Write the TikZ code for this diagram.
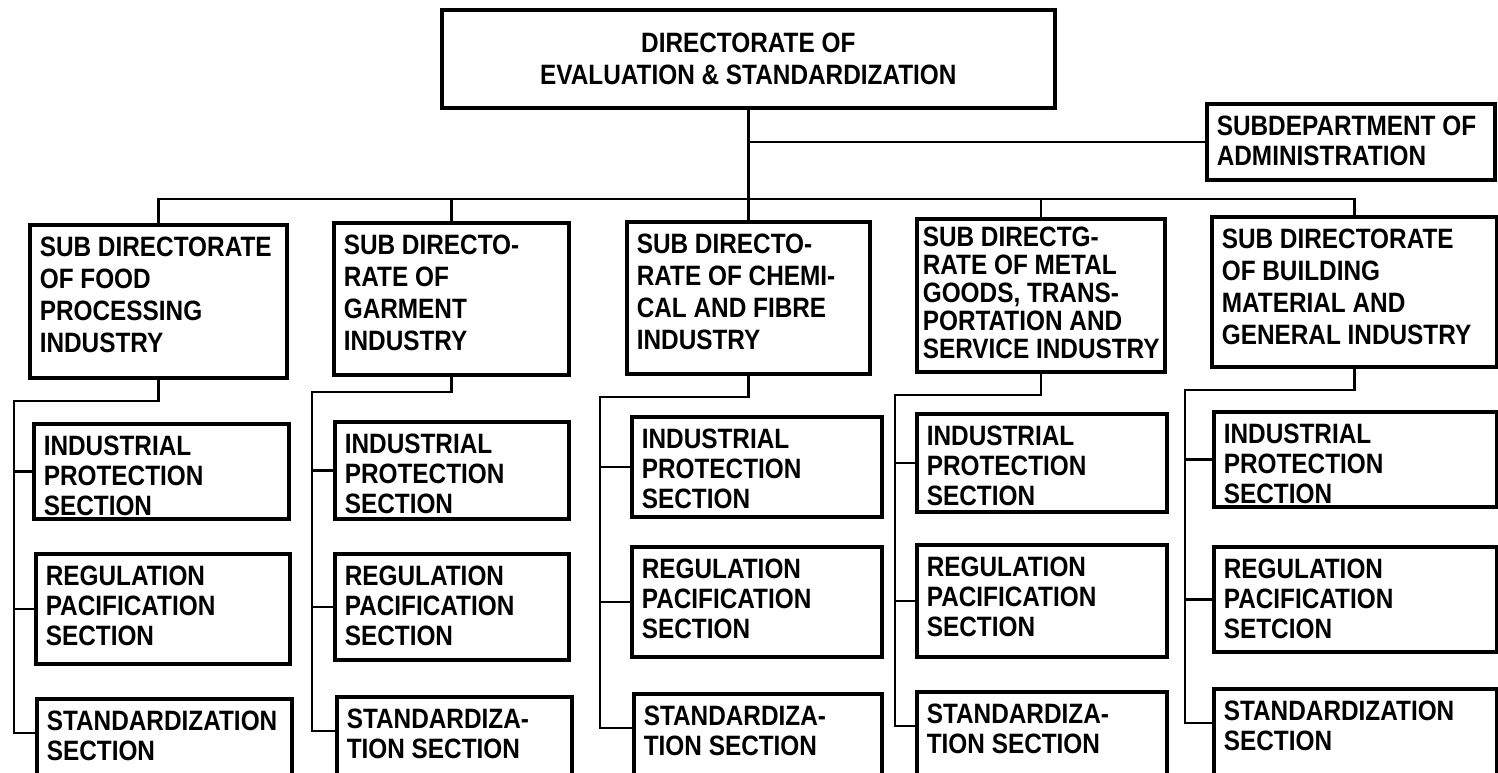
\documentclass[tikz,border=0pt]{standalone}
\usepackage{fontspec}
\setmainfont{Liberation Sans}[FakeStretch=0.87]
\newcommand{\orgtext}[3]{\parbox[c][\dimexpr#2-12pt\relax][t]{\dimexpr#1-10pt\relax}{\raggedright\hyphenpenalty=10000 #3}}

\begin{document}
\begin{tikzpicture}[x=0.5pt, y=-0.5pt,
  every node/.style={font=\bfseries\fontsize{14}{15}\selectfont},
  topbox/.style={draw, line width=1.8pt, align=center, inner sep=0pt, anchor=north west},
  unitbox/.style={draw, line width=1.8pt, anchor=north west, inner xsep=5pt, inner ysep=6pt},
  subbox/.style={unitbox, font=\bfseries\fontsize{14}{16}\selectfont},
  link/.style={line width=1.3pt}]
\useasboundingbox (0,0) rectangle (1498,772);
\clip (0,0) rectangle (1498,772);

\node (top) [topbox, minimum width=306.5pt, minimum height=49pt, font=\bfseries\fontsize{14}{16}\selectfont] at (440,8) {DIRECTORATE OF\\EVALUATION \& STANDARDIZATION};
\node (admin) [unitbox] at (1205,102) {\orgtext{144pt}{38pt}{SUBDEPARTMENT OF\\ADMINISTRATION}};

% sub directorates
\node (food) [subbox] at (28,223) {\orgtext{128.5pt}{76.5pt}{SUB DIRECTORATE\\OF FOOD\\PROCESSING\\INDUSTRY}};
\node (garment) [subbox] at (332,221) {\orgtext{117.5pt}{76pt}{SUB DIRECTO-\\RATE OF\\GARMENT\\INDUSTRY}};
\node (chemical) [subbox] at (625,220) {\orgtext{121.5pt}{76pt}{SUB DIRECTO-\\RATE OF CHEMI-\\CAL AND FIBRE\\INDUSTRY}};
\node (metal) [subbox, inner xsep=3pt, inner ysep=4pt, font=\bfseries\fontsize{14}{14}\selectfont] at (915,217) {\parbox[c][68.5pt][t]{118pt}{\raggedright SUB DIRECTG-\\RATE OF METAL\\GOODS, TRANS-\\PORTATION AND\\\mbox{SERVICE INDUSTRY}}};
\node (building) [subbox] at (1210,215) {\orgtext{142.5pt}{75pt}{SUB DIRECTORATE\\OF BUILDING\\MATERIAL AND\\GENERAL INDUSTRY}};

% sections
\node (foodip) [unitbox] at (32,422) {\orgtext{127.5pt}{47.5pt}{INDUSTRIAL\\PROTECTION\\SECTION}};
\node (foodrp) [unitbox] at (34,552) {\orgtext{127pt}{55pt}{REGULATION\\PACIFICATION\\SECTION}};
\node (foodst) [unitbox] at (35,697) {\orgtext{127.5pt}{50pt}{STANDARDIZATION\\SECTION}};

\node (garmentip) [unitbox] at (333,420) {\orgtext{117pt}{48.5pt}{INDUSTRIAL\\PROTECTION\\SECTION}};
\node (garmentrp) [unitbox] at (333,552) {\orgtext{117pt}{53pt}{REGULATION\\PACIFICATION\\SECTION}};
\node (garmentst) [unitbox] at (335,695) {\orgtext{117.5pt}{50pt}{STANDARDIZA-\\TION SECTION}};

\node (chemicalip) [unitbox] at (630,415) {\orgtext{125pt}{50pt}{INDUSTRIAL\\PROTECTION\\SECTION}};
\node (chemicalrp) [unitbox] at (630,545) {\orgtext{125pt}{55pt}{REGULATION\\PACIFICATION\\SECTION}};
\node (chemicalst) [unitbox] at (632,692) {\orgtext{124pt}{50pt}{STANDARDIZA-\\TION SECTION}};

\node (metalip) [unitbox] at (915,412) {\orgtext{125pt}{49pt}{INDUSTRIAL\\PROTECTION\\SECTION}};
\node (metalrp) [unitbox] at (915,543) {\orgtext{125pt}{56pt}{REGULATION\\PACIFICATION\\SECTION}};
\node (metalst) [unitbox] at (915,690) {\orgtext{125pt}{50pt}{STANDARDIZA-\\TION SECTION}};

\node (buildingip) [unitbox] at (1212,410) {\orgtext{141.5pt}{47.5pt}{INDUSTRIAL\\PROTECTION\\SECTION}};
\node (buildingrp) [unitbox] at (1212,545) {\orgtext{141.5pt}{52.5pt}{REGULATION\\PACIFICATION\\SETCION}};
\node (buildingst) [unitbox] at (1212,687) {\orgtext{141.5pt}{50pt}{STANDARDIZATION\\SECTION}};

% upper connectors
\coordinate (bus) at (0,199);
\draw[link] (top.south) -- (top.south |- bus);
\draw[link] (top.south |- admin.west) -- (admin.west);
\draw[link] (food.north) -- (food.north |- bus) -- (building.north |- bus) -- (building.north);
\draw[link] (garment.north) -- (garment.north |- bus);
\draw[link] (chemical.north) -- (chemical.north |- bus);
\draw[link] (metal.north) -- (metal.north |- bus);

% rails to sections
\coordinate (foodrail) at (14,401);
\coordinate (garmentrail) at (312,392);
\coordinate (chemicalrail) at (600,397);
\coordinate (metalrail) at (895,395);
\coordinate (buildingrail) at (1185,390);

\draw[link] (food.south) |- (foodrail) |- ([yshift=-18pt]foodst.north west);
\draw[link] (foodrail |- foodip.west) -- (foodip.west);
\draw[link] (foodrail |- foodrp.west) -- (foodrp.west);

\draw[link] (garment.south) |- (garmentrail) |- ([yshift=-18pt]garmentst.north west);
\draw[link] (garmentrail |- garmentip.west) -- (garmentip.west);
\draw[link] (garmentrail |- garmentrp.west) -- (garmentrp.west);

\draw[link] (chemical.south) |- (chemicalrail) |- ([yshift=-18pt]chemicalst.north west);
\draw[link] (chemicalrail |- chemicalip.west) -- (chemicalip.west);
\draw[link] (chemicalrail |- chemicalrp.west) -- (chemicalrp.west);

\draw[link] (metal.south) |- (metalrail) |- ([yshift=-18pt]metalst.north west);
\draw[link] (metalrail |- metalip.west) -- (metalip.west);
\draw[link] (metalrail |- metalrp.west) -- (metalrp.west);

\draw[link] (building.south) |- (buildingrail) |- ([yshift=-18pt]buildingst.north west);
\draw[link] (buildingrail |- buildingip.west) -- (buildingip.west);
\draw[link] (buildingrail |- buildingrp.west) -- (buildingrp.west);
\end{tikzpicture}
\end{document}
